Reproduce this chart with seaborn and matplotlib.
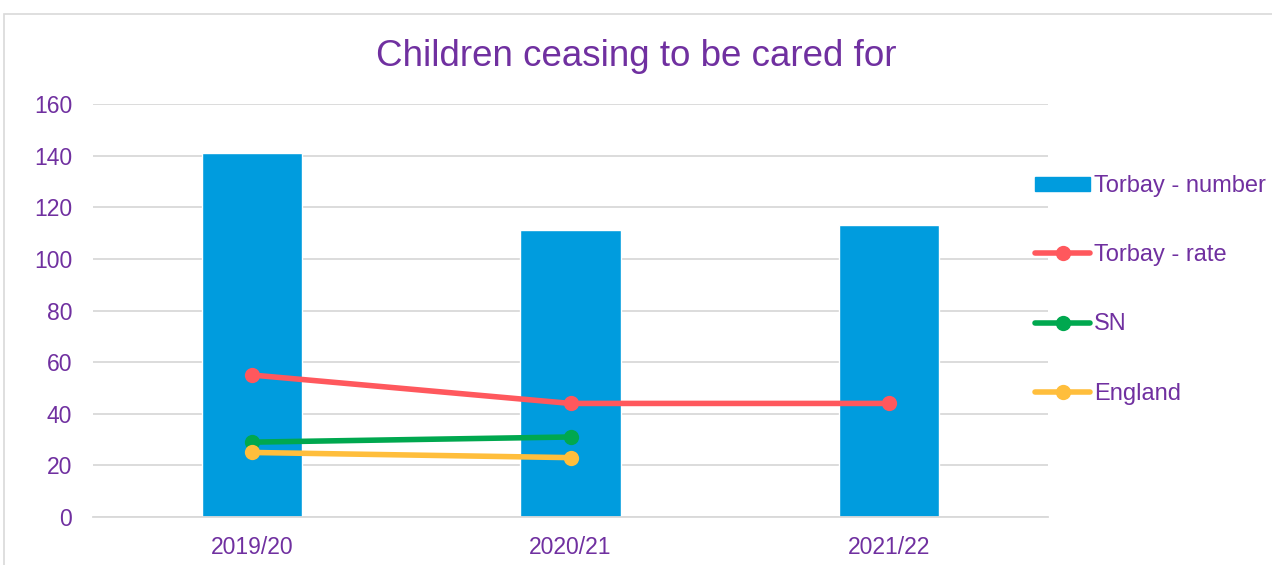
import matplotlib
matplotlib.use("Agg")
import matplotlib.pyplot as plt
import seaborn as sns
import pandas as pd
from matplotlib.patches import Rectangle
from matplotlib.lines import Line2D

# Data
years = ["2019/20", "2020/21", "2021/22"]
torbay_number = [141, 111, 113]
torbay_rate = [55, 44, 44]
sn_rate = [29, 31, None]
england_rate = [25, 23, None]

sns.set_theme(style="white")
plt.rcParams["font.family"] = ["Liberation Sans", "DejaVu Sans"]

purple = "#7030A0"
bar_col = "#009CDE"
red = "#FF585D"
green = "#00A84F"
yellow = "#FFBE3C"
grid_col = "#D9D9D9"

fig = plt.figure(figsize=(12.72, 5.65), dpi=100)
ax = fig.add_axes([93 / 1272, 1 - 517 / 565, (1048 - 93) / 1272, (517 - 104) / 565])

df_bar = pd.DataFrame({"year": years, "value": torbay_number})
sns.barplot(data=df_bar, x="year", y="value", color=bar_col, width=0.315,
            saturation=1, ax=ax, zorder=2)

df_lines = pd.DataFrame({
    "year": years * 3,
    "value": torbay_rate + sn_rate + england_rate,
    "series": ["Torbay - rate"] * 3 + ["SN"] * 3 + ["England"] * 3,
}).dropna()
for name, col in [("Torbay - rate", red), ("SN", green), ("England", yellow)]:
    sub = df_lines[df_lines["series"] == name]
    xs = [years.index(y) for y in sub["year"]]
    sns.lineplot(x=xs, y=sub["value"].values, color=col, lw=4, marker="o",
                 markersize=11, markeredgewidth=0, ax=ax, zorder=3, legend=False)

ax.set_xlim(-0.5, 2.5)
ax.set_ylim(0, 160)
ax.set_yticks(range(0, 161, 20))
ax.set_xticks(range(3))
ax.set_xticklabels(years)
ax.set_xlabel("")
ax.set_ylabel("")
ax.yaxis.grid(True, color=grid_col, lw=1.3, zorder=0)
ax.set_axisbelow(True)
for s in ["top", "right", "left"]:
    ax.spines[s].set_visible(False)
ax.spines["bottom"].set_color(grid_col)
ax.spines["bottom"].set_linewidth(1.3)
ax.tick_params(axis="both", length=0, labelsize=16.5, colors=purple)
ax.tick_params(axis="y", pad=15)
ax.tick_params(axis="x", pad=14)

fig.text(0.5, 1 - 56 / 565, "Children ceasing to be cared for", ha="center", va="center",
         fontsize=26.5, color=purple)

# Outer chart-area frame
fig.patches.append(Rectangle((4 / 1272, -0.05), 1.1, 1 - 14 / 565 + 0.05,
                             transform=fig.transFigure, fill=False,
                             edgecolor=grid_col, lw=1.2))

handles = [
    Rectangle((0, 0), 1, 1, color=bar_col),
    Line2D([], [], color=red, lw=4, marker="o", markersize=11, markeredgewidth=0),
    Line2D([], [], color=green, lw=4, marker="o", markersize=11, markeredgewidth=0),
    Line2D([], [], color=yellow, lw=4, marker="o", markersize=11, markeredgewidth=0),
]
labels = ["Torbay - number", "Torbay - rate", "SN", "England"]
fig.legend(handles, labels, loc="upper left", bbox_to_anchor=(1035 / 1272, 1 - 175 / 565),
           frameon=False, fontsize=17, labelcolor=purple, labelspacing=2.0,
           handlelength=2.35, handleheight=0.55, handletextpad=0.15, borderaxespad=0,
           borderpad=0)

fig.savefig("out.png", dpi=100)
